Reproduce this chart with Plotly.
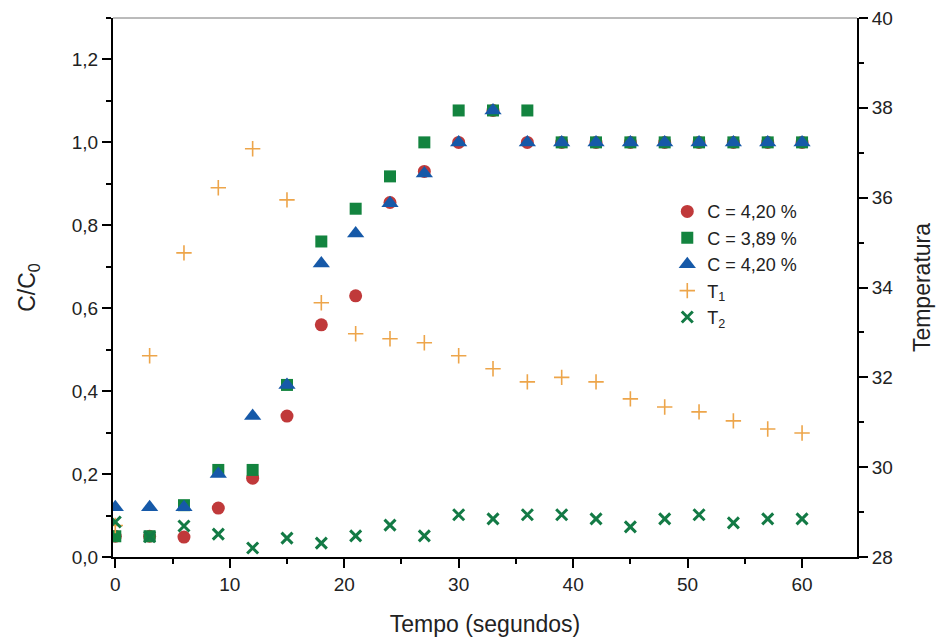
import plotly.graph_objects as go

tempo = [0, 3, 6, 9, 12, 15, 18, 21, 24, 27, 30, 33, 36, 39, 42, 45, 48, 51, 54, 57, 60]
c_red = [0.05, 0.05, 0.048, 0.118, 0.19, 0.34, 0.56, 0.63, 0.855, 0.93, 1.0, 1.077, 1.0, 1.0, 1.0, 1.0, 1.0, 1.0, 1.0, 1.0, 1.0]
c_green = [0.05, 0.05, 0.125, 0.21, 0.21, 0.415, 0.761, 0.84, 0.918, 1.0, 1.077, 1.077, 1.077, 1.0, 1.0, 1.0, 1.0, 1.0, 1.0, 1.0, 1.0]
c_blue = [0.12, 0.12, 0.12, 0.2, 0.34, 0.415, 0.708, 0.78, 0.853, 0.925, 1.0, 1.077, 1.0, 1.0, 1.0, 1.0, 1.0, 1.0, 1.0, 1.0, 1.0]
t1 = [28.7, 32.48, 34.77, 36.22, 37.09, 35.95, 33.66, 32.97, 32.86, 32.77, 32.48, 32.19, 31.9, 32.0, 31.9, 31.52, 31.34, 31.23, 31.03, 30.85, 30.76]
t2 = [28.78, 28.45, 28.69, 28.51, 28.2, 28.42, 28.31, 28.47, 28.71, 28.47, 28.94, 28.85, 28.94, 28.94, 28.85, 28.67, 28.85, 28.94, 28.76, 28.85, 28.85]

font = "Liberation Sans, Arial, sans-serif"
t1_marker = dict(symbol="cross-thin", size=11, line=dict(color="#eda54a", width=1.6), color="#eda54a")
t2_marker = dict(symbol="x-thin", size=11, line=dict(color="#137a45", width=3), color="#137a45")

fig = go.Figure()
fig.add_trace(go.Scatter(x=tempo, y=t1, mode="markers", name="T<sub>1</sub>", yaxis="y2",
                         marker=t1_marker, showlegend=False))
fig.add_trace(go.Scatter(x=tempo, y=t2, mode="markers", name="T<sub>2</sub>", yaxis="y2",
                         marker=t2_marker, showlegend=False))
fig.add_trace(go.Scatter(x=tempo, y=c_red, mode="markers", name="C = 4,20 %",
                         marker=dict(symbol="circle", size=13, color="#c0393a")))
fig.add_trace(go.Scatter(x=tempo, y=c_green, mode="markers", name="C = 3,89 %",
                         marker=dict(symbol="square", size=12, color="#13843f")))
fig.add_trace(go.Scatter(x=tempo, y=c_blue, mode="markers", name="C = 4,20 %",
                         marker=dict(symbol="triangle-up", size=15, color="#1659a8")))
fig.add_trace(go.Scatter(x=[None], y=[None], mode="markers", name="T<sub>1</sub>", yaxis="y2",
                         marker=t1_marker))
fig.add_trace(go.Scatter(x=[None], y=[None], mode="markers", name="T<sub>2</sub>", yaxis="y2",
                         marker=t2_marker))

minor = dict(ticks="outside", ticklen=5, tickcolor="black", tickwidth=2)
axis_common = dict(showline=True, linecolor="black", linewidth=2, ticks="outside", tickcolor="black",
                   tickwidth=2, ticklen=9, showgrid=False, zeroline=False, automargin=False,
                   tickfont=dict(family=font, size=19, color="#222"))
fig.update_layout(
    width=945, height=641,
    margin=dict(l=113, r=88, t=18, b=84),
    paper_bgcolor="white", plot_bgcolor="white",
    separators=",.",
    font=dict(family=font, color="#222"),
    xaxis=dict(range=[-0.2, 64.8], dtick=10, minor=dict(dtick=5, **minor),
               title=dict(text="Tempo (segundos)", font=dict(family=font, size=23), standoff=22),
               **axis_common),
    yaxis=dict(range=[0, 1.3], dtick=0.2, tickformat=".1f", minor=dict(dtick=0.1, **minor),
               title=dict(text="C/C<sub>0</sub>", font=dict(family=font, size=23), standoff=30),
               **axis_common),
    yaxis2=dict(range=[28, 40], dtick=2, overlaying="y", side="right", minor=dict(dtick=1, **minor),
                title=dict(text="Temperatura", font=dict(family=font, size=23), standoff=22),
                **axis_common),
    legend=dict(x=0.745, y=0.675, xanchor="left", yanchor="top", bgcolor="rgba(0,0,0,0)",
                font=dict(family=font, size=18, color="#222"), tracegroupgap=0, itemsizing="trace"),
    shapes=[dict(type="line", xref="paper", yref="paper", x0=0, x1=1, y0=1, y1=1,
                 line=dict(color="#777", width=1))],
)
fig.write_html("out.html")
